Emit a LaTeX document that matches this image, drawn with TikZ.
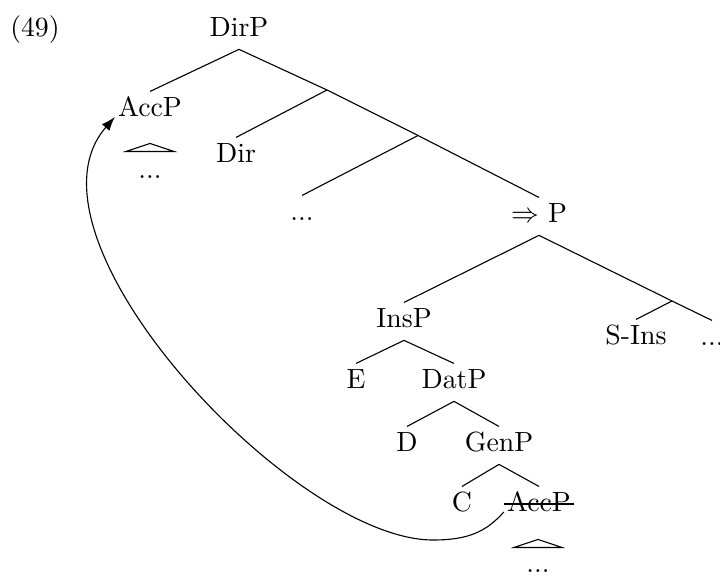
\documentclass[tikz,border=0pt]{standalone}
\usetikzlibrary{arrows.meta}
\begin{document}
\begin{tikzpicture}[x=0.36pt,y=-0.36pt,
  lbl/.style={anchor=base,inner xsep=1pt,inner ysep=2.1pt,text height=1.6ex,text depth=0.5ex}]

  \useasboundingbox (0,0) rectangle (720,577);

  % example number
  \node[lbl] (exnum) at (35,37) {(49)};

  % -------- UPPER PART --------
  \node[lbl] (dirp)  at (239,37)  {DirP};
  \node[lbl] (accp)  at (150,117) {AccP};
  \node[lbl] (dir)   at (236,163) {Dir};
  \node[lbl] (dotsa) at (150,179) {...};
  \node[lbl] (dotsb) at (302,221) {...};
  \node[lbl] (pp)    at (539,223) {$\Rightarrow$ P};

  % branching points on the spine
  \coordinate (ba) at (327,90);
  \coordinate (bb) at (418,135.5);

  \draw (dirp.south) -- (accp.north);
  \draw (dirp.south) -- (ba) -- (bb) -- (pp.north);
  \draw (ba) -- (dir.north);
  \draw (bb) -- (dotsb.north);

  % roof over the moved AccP
  \draw (dotsa.north) ++(0,-10) -- ++(-24,8) -- ++(48,0) -- cycle;

  % -------- LOWER PART --------
  \node[lbl] (insp)  at (404,328) {InsP};
  \node[lbl] (sins)  at (636,345) {S-Ins};
  \node[lbl] (dotsc) at (712,346) {...};
  \coordinate (bc) at (672,301);

  \draw (pp.south) -- (insp.north);
  \draw (pp.south) -- (bc) -- (dotsc.north);
  \draw (bc) -- (sins.north);

  \node[lbl] (e)     at (356,389) {E};
  \node[lbl] (datp)  at (454,389) {DatP};
  \node[lbl] (d)     at (407,452) {D};
  \node[lbl] (genp)  at (499,452) {GenP};
  \node[lbl] (c)     at (462,512) {C};
  \node[lbl] (acct)  at (539,512) {AccP};
  \node[lbl] (dotsd) at (538,573) {...};

  \draw (insp.south) -- (e.north);
  \draw (insp.south) -- (datp.north);
  \draw (datp.south) -- (d.north);
  \draw (datp.south) -- (genp.north);
  \draw (genp.south) -- (c.north);
  \draw (genp.south) -- (acct.north);

  % struck-out copy
  \draw[thick] ([yshift=2.9pt]acct.base west) -- ([yshift=2.9pt]acct.base east);
  \draw (dotsd.north) ++(0,-8) -- ++(-24,8) -- ++(48,0) -- cycle;

  % ---------- Movement arrow ----------
  \coordinate (lowpt) at (433,540);
  \draw[-{Latex[length=5pt,width=3.6pt]}] (acct.base west)
    .. controls +(-18,20) and +(35,0) .. (lowpt)
    .. controls +(-140,0) and +(-105,120) .. (accp.base west);

\end{tikzpicture}
\end{document}
